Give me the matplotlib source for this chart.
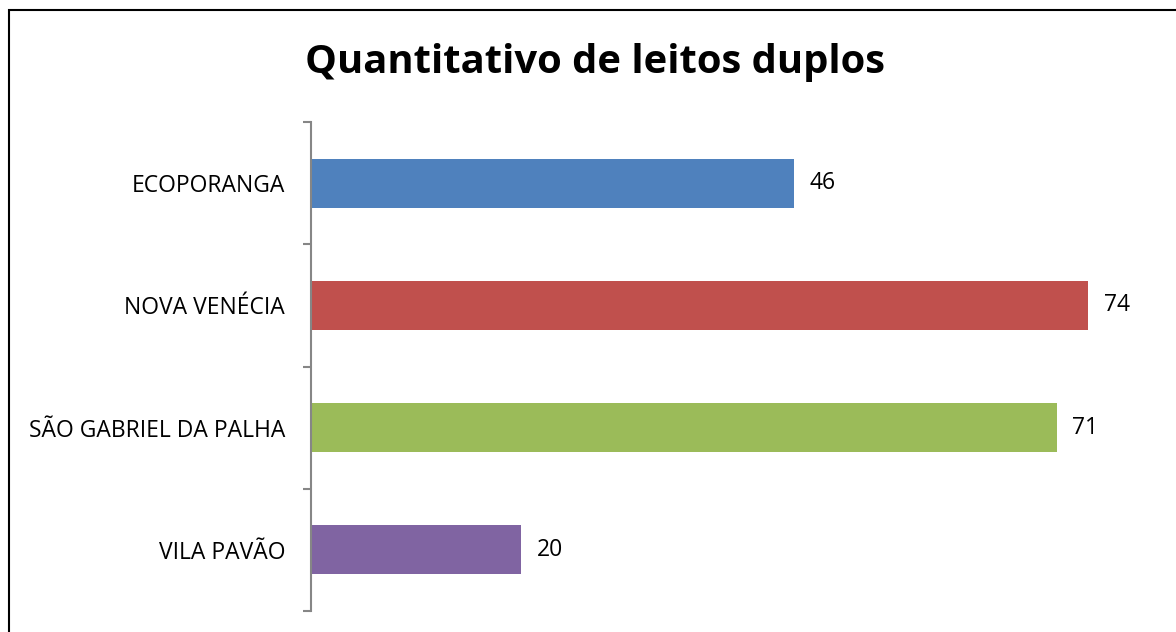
import matplotlib
matplotlib.use("Agg")
import matplotlib.pyplot as plt
from matplotlib.patches import Rectangle

cities = ["ECOPORANGA", "NOVA VENÉCIA", "SÃO GABRIEL DA PALHA", "VILA PAVÃO"]
leitos = [46, 74, 71, 20]
colors = ["#4F81BD", "#C0504D", "#9BBB59", "#8064A2"]

W, H = 1176, 632
plt.rcParams["font.family"] = ["Open Sans", "DejaVu Sans"]
fig = plt.figure(figsize=(W / 100, H / 100), dpi=100)
ax = fig.add_axes([311 / W, 1 - 611 / H, (1151 - 311) / W, (611 - 122) / H])

ypos = list(range(len(cities)))
ax.barh(ypos, leitos, height=0.4, color=colors)
for y, v in zip(ypos, leitos):
    ax.text(v + 1.5, y, str(v), va="center", ha="left", fontsize=16.5)

ax.set_xlim(0, 80)
ax.set_ylim(len(cities) - 0.5, -0.5)
ax.set_yticks(ypos)
ax.set_yticklabels(cities, fontsize=16.5)
ax.set_yticks([i - 0.5 for i in range(len(cities) + 1)], minor=True)
ax.tick_params(axis="y", which="major", length=0, pad=18.7)
ax.tick_params(axis="y", which="minor", length=5.8, width=1.5, color="#868686")
ax.set_xticks([])
for s in ("top", "right", "bottom"):
    ax.spines[s].set_visible(False)
ax.spines["left"].set_color("#868686")
ax.spines["left"].set_linewidth(1.5)

fig.text(595 / W, 1 - 63 / H, "Quantitativo de leitos duplos",
         ha="center", va="center", fontsize=28.8, fontweight="bold")

# outer chart frame (cropped on right and bottom)
fig.patches.append(Rectangle((8.5 / W, -0.1), 1.2, 1 - 10 / H + 0.1,
                             transform=fig.transFigure, fill=False,
                             edgecolor="black", linewidth=1.5))

fig.savefig("out.png", dpi=100)
